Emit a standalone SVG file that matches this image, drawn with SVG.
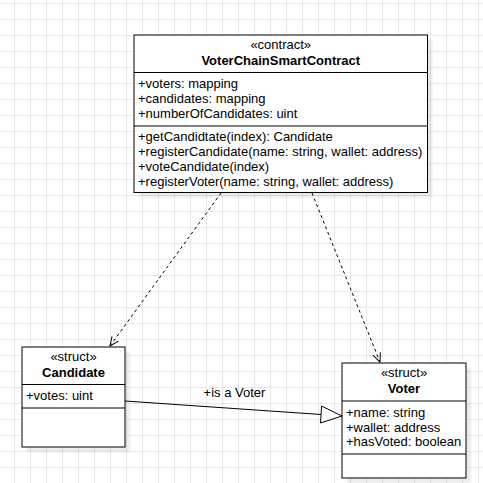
<svg xmlns="http://www.w3.org/2000/svg" width="483" height="483" viewBox="0 0 483 483">
  <style>
    .box { fill: #ffffff; stroke: #000000; stroke-width: 1; }
    .sep { stroke: #000000; stroke-width: 1; }
    .shadow { fill: #000000; opacity: 0.07; filter: url(#soft); }
    text { font-family: "Liberation Sans", Arial, sans-serif; font-size: 13px; fill: #000000; }
    .c { text-anchor: middle; }
    .b { font-weight: bold; }
    .dep { fill: none; stroke: #000000; stroke-width: 1; stroke-dasharray: 3 3; }
    .gen { fill: none; stroke: #000000; stroke-width: 1; }
  </style>
  <defs>
    <pattern id="grid" patternUnits="userSpaceOnUse" x="14" y="3" width="16" height="16">
      <path d="M0.5 0 V16 M0 0.5 H16" stroke="#e8e8e8" stroke-width="1" fill="none"/>
    </pattern>
    <filter id="soft" x="-10%" y="-10%" width="120%" height="120%">
      <feGaussianBlur stdDeviation="1"/>
    </filter>
    <marker id="open" viewBox="-11 -6 13 12" refX="0" refY="0" markerWidth="13" markerHeight="12" markerUnits="userSpaceOnUse" orient="auto">
      <path d="M-9 -4 L0 0 L-9 4" fill="none" stroke="#000000" stroke-width="1"/>
    </marker>
  </defs>

  <!-- background grid -->
  <rect width="483" height="483" fill="#ffffff"/>
  <rect width="483" height="483" fill="url(#grid)"/>

  <!-- connectors -->
  <g id="connectors">
    <line class="dep" x1="221" y1="193" x2="110" y2="346" marker-end="url(#open)"/>
    <line class="dep" x1="312" y1="193" x2="380" y2="362" marker-end="url(#open)"/>
    <line class="gen" x1="125" y1="401" x2="321" y2="414.5"/>
    <polygon points="321.6,406.1 342,416 320.5,423" fill="#ffffff" stroke="#000000" stroke-width="1"/>
    <text class="c" x="234.5" y="396.5">+is a Voter</text>
  </g>

  <!-- contract class -->
  <g id="VoterChainSmartContract">
    <rect class="shadow" x="139" y="40" width="293.5" height="157.5"/>
    <rect class="box" x="134" y="35" width="293.5" height="157.5"/>
    <line class="sep" x1="134" y1="72.5" x2="427.5" y2="72.5"/>
    <line class="sep" x1="134" y1="126" x2="427.5" y2="126"/>
    <text class="c" x="280.75" y="48.5">«contract»</text>
    <text class="c b" x="280.75" y="65">VoterChainSmartContract</text>
    <text x="138" y="87.5">+voters: mapping</text>
    <text x="138" y="102.5">+candidates: mapping</text>
    <text x="138" y="117.5">+numberOfCandidates: uint</text>
    <text x="138" y="141">+getCandidtate(index): Candidate</text>
    <text x="138" y="156">+registerCandidate(name: string, wallet: address)</text>
    <text x="138" y="171">+voteCandidate(index)</text>
    <text x="138" y="186">+registerVoter(name: string, wallet: address)</text>
  </g>

  <!-- Candidate struct -->
  <g id="Candidate">
    <rect class="shadow" x="27" y="352" width="103" height="100"/>
    <rect class="box" x="22" y="347" width="103" height="100"/>
    <line class="sep" x1="22" y1="384.5" x2="125" y2="384.5"/>
    <line class="sep" x1="22" y1="408" x2="125" y2="408"/>
    <text class="c" x="73.5" y="361">«struct»</text>
    <text class="c b" x="73.5" y="377">Candidate</text>
    <text x="26" y="399.5">+votes: uint</text>
  </g>

  <!-- Voter struct -->
  <g id="Voter">
    <rect class="shadow" x="347" y="368" width="124" height="115"/>
    <rect class="box" x="342" y="363" width="124" height="115"/>
    <line class="sep" x1="342" y1="401" x2="466" y2="401"/>
    <line class="sep" x1="342" y1="454" x2="466" y2="454"/>
    <text class="c" x="404" y="377">«struct»</text>
    <text class="c b" x="404" y="392.5">Voter</text>
    <text x="346" y="417">+name: string</text>
    <text x="346" y="431.5">+wallet: address</text>
    <text x="346" y="446">+hasVoted: boolean</text>
  </g>
</svg>
